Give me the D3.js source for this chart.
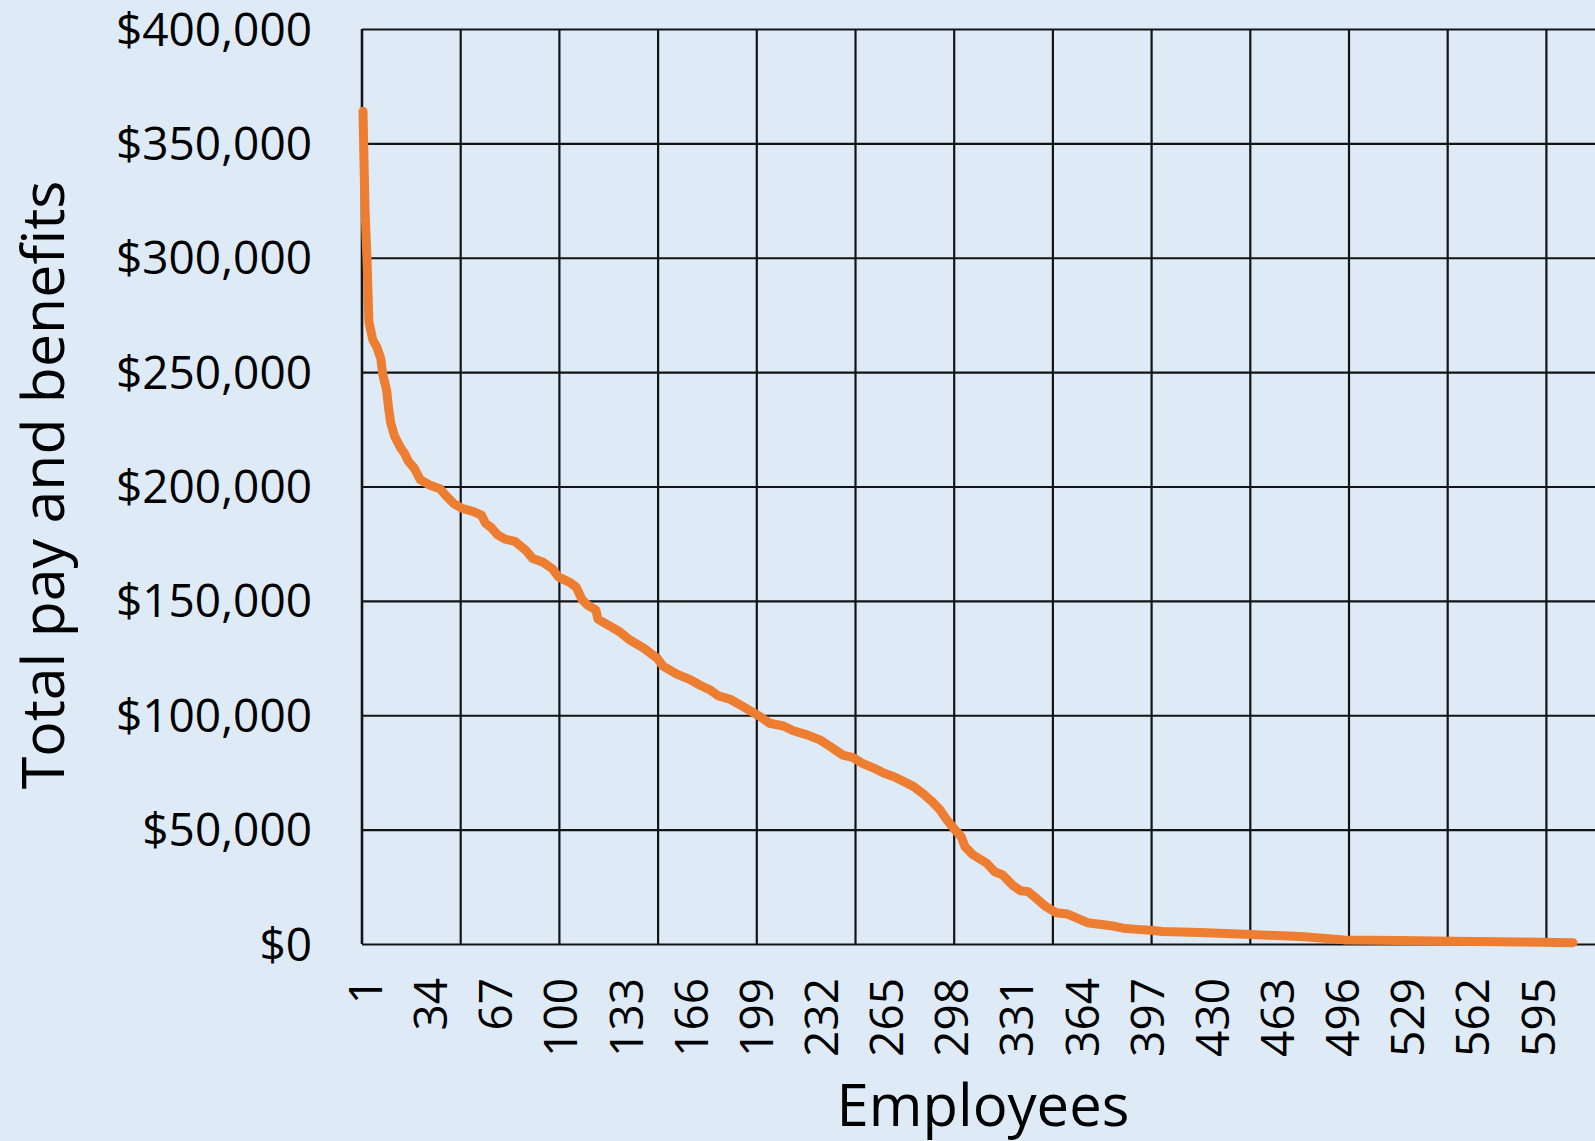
<!DOCTYPE html>
<html>
<head>
<meta charset="utf-8">
<script src="https://cdn.jsdelivr.net/npm/d3@7"></script>
<style>
  body { margin: 0; background: #deebf7; }
  svg { display: block; }
  text { font-family: "Open Sans", sans-serif; fill: #000; }
</style>
</head>
<body>
<div id="chart"></div>
<script>
// employee rank and total pay and benefits
var employee = [1, 2, 3, 4, 6, 8, 10, 11, 13, 14, 15, 17, 20, 22, 24, 27, 30, 35, 40, 43,
  47, 51, 57, 61, 63, 66, 69, 73, 78, 83, 87, 92, 97, 100, 106, 109, 112, 115, 119, 120,
  125, 131, 136, 143, 150, 153, 160, 167, 172, 177, 181, 187, 192, 197, 202, 207, 214, 219, 226, 233,
  239, 244, 249, 254, 260, 265, 270, 275, 280, 285, 289, 293, 297, 301, 304, 306, 310, 317, 321, 325,
  330, 334, 338, 342, 347, 352, 358, 363, 368, 374, 380, 386, 393, 400, 406, 420, 425, 451, 476, 498,
  526, 553, 587, 614];
var totalPay = [364000, 322000, 300000, 272000, 264000, 261000, 256000, 249000, 242000, 234000, 228000, 222000, 217000, 214500, 211000, 208000, 203000, 200500, 199000, 196000,
  192500, 190500, 189000, 187500, 184000, 182000, 179000, 177000, 176000, 172500, 168500, 167000, 164000, 160500, 158000, 156000, 150500, 148000, 146000, 142000,
  139500, 136500, 133000, 129500, 125000, 121500, 118000, 115500, 113000, 111000, 108500, 107000, 104500, 102000, 99500, 96500, 95300, 93200, 91400, 89000,
  85600, 82600, 81600, 79000, 76800, 74600, 73100, 71000, 68800, 65500, 62500, 59000, 54000, 49800, 47000, 42500, 39000, 35300, 31600, 30200,
  25800, 23300, 22900, 20000, 16300, 13700, 13100, 11200, 9300, 8600, 8000, 6900, 6400, 6000, 5500, 5100, 5000, 4100, 3300, 1800,
  1500, 1200, 900, 600];

var yTicks = [0, 50000, 100000, 150000, 200000, 250000, 300000, 350000, 400000];
var xTickLabels = [1, 34, 67, 100, 133, 166, 199, 232, 265, 298, 331, 364, 397, 430, 463, 496, 529, 562, 595];
var gridStep = 50;       // vertical gridlines every 50 employees
var nCategories = 625;   // plot area runs past the right edge

var width = 1595, height = 1141;
var plotLeft = 362, plotTop = 29, plotBottom = 944;
var catWidth = 1.974;

var svg = d3.select("#chart")
  .append("svg")
  .attr("width", width)
  .attr("height", height);

svg.append("rect")
  .attr("width", width)
  .attr("height", height)
  .attr("fill", "#deebf7");

var x = d3.scaleLinear()
  .domain([0.5, nCategories + 0.5])
  .range([plotLeft, plotLeft + nCategories * catWidth]);

var y = d3.scaleLinear()
  .domain([0, 400000])
  .range([plotBottom, plotTop]);

// horizontal gridlines + y labels
var yAxis = svg.append("g")
  .attr("transform", `translate(${plotLeft},0)`)
  .call(d3.axisLeft(y)
    .tickValues(yTicks)
    .tickSize(-(width - plotLeft + 5))
    .tickPadding(50)
    .tickFormat(d => "$" + d3.format(",")(d)));
yAxis.select(".domain").remove();
yAxis.selectAll("line")
  .attr("stroke", "#141414")
  .attr("stroke-width", 2.2);
yAxis.selectAll("text")
  .attr("dy", "0.35em")
  .style("font-size", "46px");

// vertical gridlines
svg.append("g")
  .selectAll("line")
  .data(d3.range(0.5, nCategories, gridStep))
  .join("line")
  .attr("x1", d => x(d))
  .attr("x2", d => x(d))
  .attr("y1", plotTop)
  .attr("y2", plotBottom)
  .attr("stroke", "#141414")
  .attr("stroke-width", d => d === 0.5 ? 2.6 : 2.2);

// x labels, rotated
svg.append("g")
  .selectAll("text")
  .data(xTickLabels)
  .join("text")
  .attr("transform", d => `translate(${x(d) + 19},978) rotate(-90)`)
  .attr("text-anchor", "end")
  .style("font-size", "46px")
  .text(d => d);

// the pay curve
var line = d3.line()
  .x((d, i) => x(employee[i]))
  .y(d => y(d));

svg.append("path")
  .datum(totalPay)
  .attr("fill", "none")
  .attr("stroke", "#ed7d31")
  .attr("stroke-width", 9)
  .attr("stroke-linejoin", "round")
  .attr("stroke-linecap", "round")
  .attr("d", line);

// axis titles
svg.append("text")
  .attr("transform", "translate(64,485) rotate(-90)")
  .attr("text-anchor", "middle")
  .style("font-size", "59px")
  .text("Total pay and benefits");

svg.append("text")
  .attr("x", 983)
  .attr("y", 1126)
  .attr("text-anchor", "middle")
  .style("font-size", "58px")
  .text("Employees");
</script>
</body>
</html>
